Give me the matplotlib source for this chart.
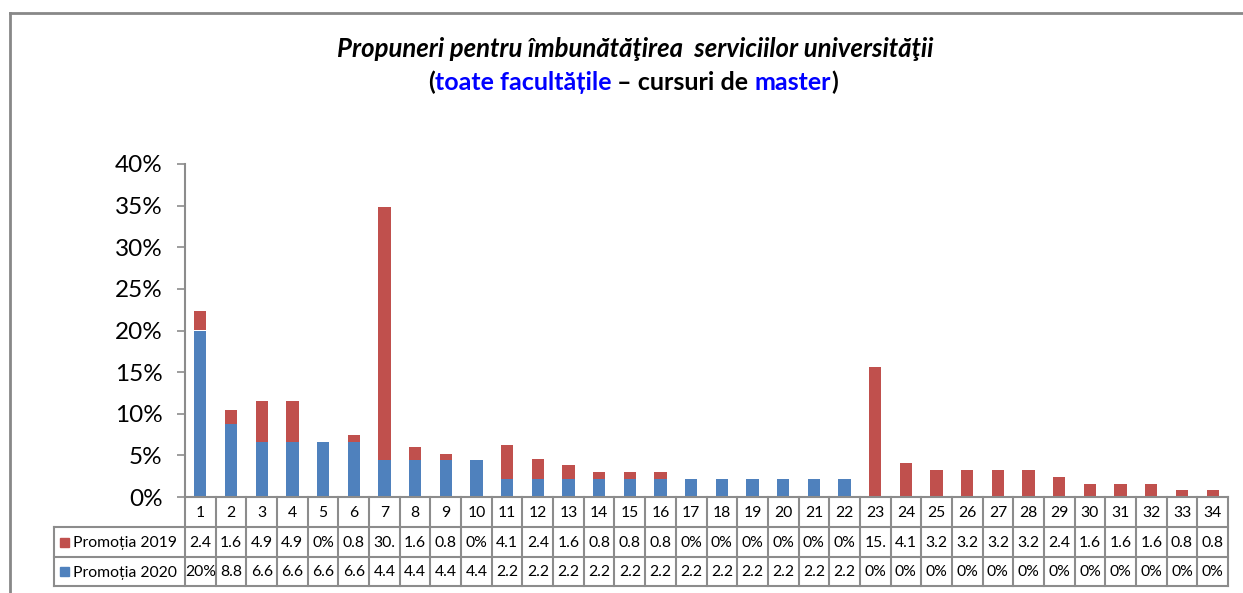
import matplotlib
matplotlib.use("Agg")
import matplotlib.pyplot as plt
from matplotlib.patches import Rectangle
from matplotlib.lines import Line2D

plt.rcParams['font.family'] = ['Lato', 'DejaVu Sans']

categories = [str(i) for i in range(1, 35)]
promotia_2019 = [2.4, 1.6, 4.9, 4.9, 0, 0.8, 30.4, 1.6, 0.8, 0, 4.1, 2.4, 1.6, 0.8,
                 0.8, 0.8, 0, 0, 0, 0, 0, 0, 15.6, 4.1, 3.2, 3.2, 3.2, 3.2, 2.4,
                 1.6, 1.6, 1.6, 0.8, 0.8]
promotia_2020 = [20, 8.8, 6.6, 6.6, 6.6, 6.6, 4.4, 4.4, 4.4, 4.4, 2.2, 2.2, 2.2,
                 2.2, 2.2, 2.2, 2.2, 2.2, 2.2, 2.2, 2.2, 2.2, 0, 0, 0, 0, 0, 0,
                 0, 0, 0, 0, 0, 0]
series_names = ['Promoția 2019', 'Promoția 2020']
yticks = [0, 5, 10, 15, 20, 25, 30, 35, 40]

RED = '#C0504D'
BLUE = '#4F81BD'
GRID = '#8C8C8C'

W, H = 1243, 593
fig = plt.figure(figsize=(W / 100, H / 100), dpi=100)

def fx(px):
    return px / W

def fy(py):
    return 1 - py / H

# outer chart frame (cropped at right/bottom)
fig.add_artist(Line2D([fx(10), fx(10)], [fy(13), fy(600)], color='#888888', lw=2, transform=fig.transFigure))
fig.add_artist(Line2D([fx(10), fx(1250)], [fy(13), fy(13)], color='#888888', lw=2, transform=fig.transFigure))

ax_l, ax_r, ax_t, ax_b = 185, 1228, 164, 497
ax = fig.add_axes([fx(ax_l), fy(ax_b), fx(ax_r) - fx(ax_l), fy(ax_t) - fy(ax_b)])

x = list(range(len(categories)))
bw = 0.4
ax.bar(x, promotia_2020, width=bw, color=BLUE, zorder=2)
ax.bar(x, promotia_2019, width=bw, bottom=promotia_2020, color=RED, zorder=2)

ax.set_xlim(-0.5, len(categories) - 0.5)
ax.set_ylim(0, 40)
ax.set_yticks(yticks)
ax.set_yticklabels([f"{t}%" for t in yticks], fontsize=17.5)
ax.set_xticks([])
for s in ['top', 'right']:
    ax.spines[s].set_visible(False)
for s in ['left', 'bottom']:
    ax.spines[s].set_color(GRID)
    ax.spines[s].set_linewidth(1.5)
ax.tick_params(axis='y', length=6, width=1.2, color=GRID, pad=10)

# data table
def fmt(v):
    if v == 0:
        return "0%"
    if float(v).is_integer():
        return f"{int(v)}%"
    return f"{v:.1f}"[:3]

row_y = [497, 527, 557, 586]
tbl_left = 54
n = len(categories)
colw = (ax_r - ax_l) / n
lw = 1.5
fs = 11.3

def hline(x0, x1, y):
    fig.add_artist(Line2D([fx(x0), fx(x1)], [fy(y), fy(y)], color=GRID, lw=lw, transform=fig.transFigure))

def vline(xp, y0, y1):
    fig.add_artist(Line2D([fx(xp), fx(xp)], [fy(y0), fy(y1)], color=GRID, lw=lw, transform=fig.transFigure))

hline(tbl_left, ax_r, row_y[1])
hline(tbl_left, ax_r, row_y[2])
hline(tbl_left, ax_r, row_y[3])
vline(tbl_left, row_y[1], row_y[3])
for i in range(n + 1):
    vline(ax_l + i * colw, row_y[0], row_y[3])

for i, c in enumerate(categories):
    cx = ax_l + (i + 0.5) * colw
    fig.text(fx(cx), fy((row_y[0] + row_y[1]) / 2 + 1), c, ha='center', va='center', fontsize=fs)
    fig.text(fx(cx), fy((row_y[1] + row_y[2]) / 2 + 1), fmt(promotia_2019[i]), ha='center', va='center', fontsize=fs)
    fig.text(fx(cx), fy((row_y[2] + row_y[3]) / 2 + 1), fmt(promotia_2020[i]), ha='center', va='center', fontsize=fs)

for r, (name, col) in enumerate(zip(series_names, [RED, BLUE])):
    yc = (row_y[r + 1] + row_y[r + 2]) / 2
    fig.add_artist(Rectangle((fx(60), fy(yc + 4.5)), fx(9), fy(0) - fy(9), color=col, transform=fig.transFigure))
    fig.text(fx(73), fy(yc + 1), name, ha='left', va='center', fontsize=fs)

# title
fig.text(fx(635), fy(49), "Propuneri pentru îmbunătăţirea  serviciilor universităţii",
         ha='center', va='center', fontsize=18.5, fontweight='bold', fontstyle='italic')

pieces = [("(", 'black'), ("toate facultățile", '#0000FF'), (" – cursuri de ", 'black'),
          ("master", '#0000FF'), (")", 'black')]
renderer = fig.canvas.get_renderer()
texts = []
widths = []
for s, c in pieces:
    t = fig.text(0, fy(82), s, ha='left', va='center', fontsize=18, fontweight='bold', color=c)
    bb = t.get_window_extent(renderer=renderer)
    texts.append(t)
    widths.append(bb.width)
total = sum(widths)
xcur = 633 - total / 2
for t, w in zip(texts, widths):
    t.set_x(fx(xcur))
    xcur += w

fig.savefig("out.png", dpi=100)
